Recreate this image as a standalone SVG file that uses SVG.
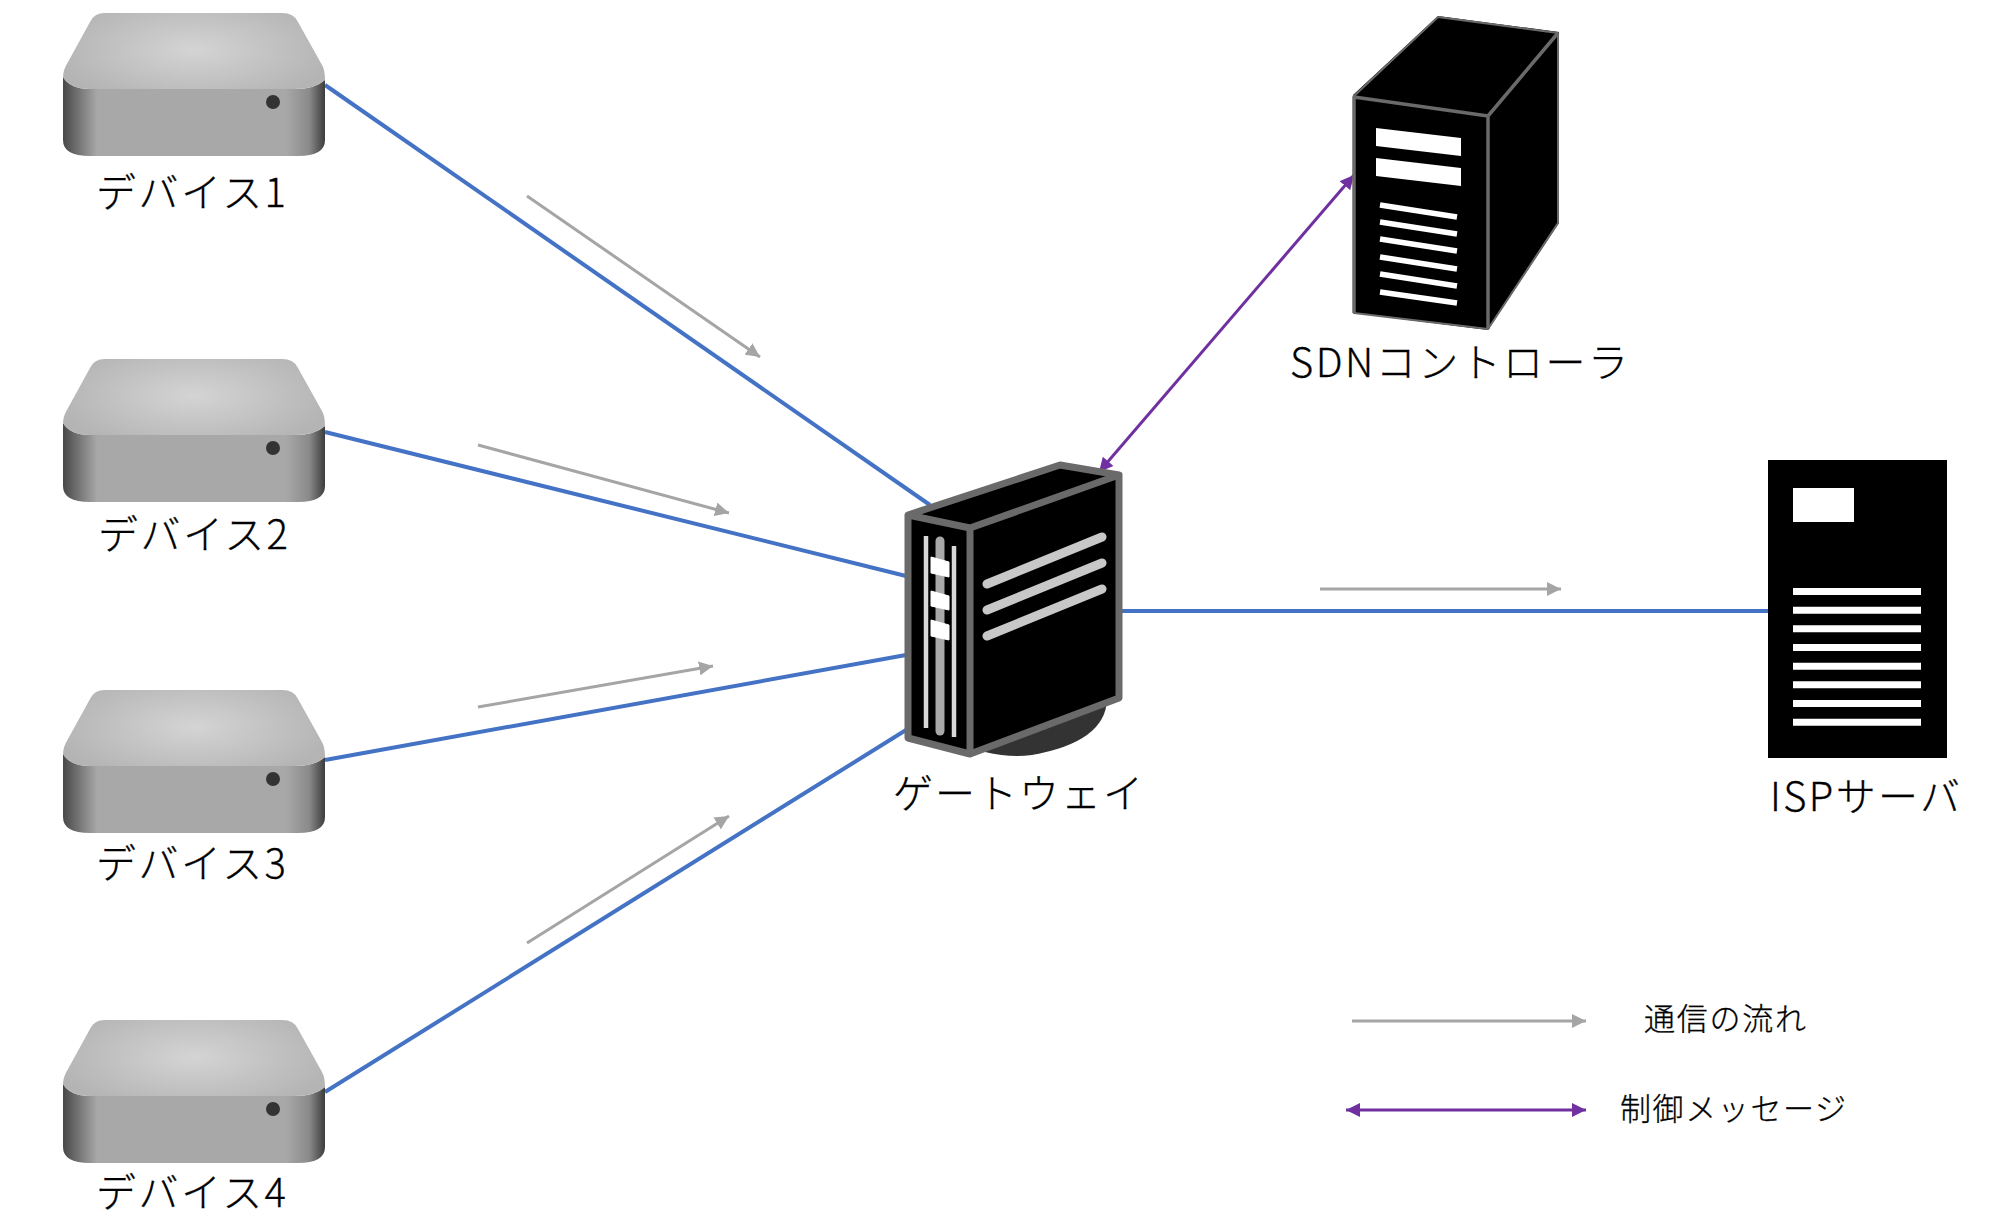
<svg xmlns="http://www.w3.org/2000/svg" width="2010" height="1230" viewBox="0 0 2010 1230">
<style>
text{font-family:"Noto Sans CJK JP","Noto Sans",sans-serif;font-weight:300;fill:#000;stroke:#000;stroke-width:.3px;font-size:40px}
.leg{font-size:31px}
.link{stroke:#4472c4;stroke-width:4;fill:none}
.flow{stroke:#a5a5a5;stroke-width:3;fill:none;marker-end:url(#ga)}
.ctl{stroke:#7030a0;stroke-width:3;fill:none;marker-end:url(#pa);marker-start:url(#ps)}
.body{fill:#000}
.edge{stroke:#6a6a6a;fill:none;stroke-linejoin:round}
</style>
<defs>
<marker id="ga" markerUnits="userSpaceOnUse" markerWidth="15" markerHeight="14" refX="14" refY="7" orient="auto"><path d="M0 0L14 7L0 14Z" fill="#a5a5a5"/></marker>
<marker id="pa" markerUnits="userSpaceOnUse" markerWidth="15" markerHeight="14" refX="14" refY="7" orient="auto"><path d="M0 0L14 7L0 14Z" fill="#7030a0"/></marker>
<marker id="ps" markerUnits="userSpaceOnUse" markerWidth="15" markerHeight="14" refX="0" refY="7" orient="auto"><path d="M14 0L0 7L14 14Z" fill="#7030a0"/></marker>
<radialGradient id="top" gradientUnits="userSpaceOnUse" cx="194" cy="50" r="140" gradientTransform="translate(0 30) scale(1 .4)">
<stop offset="0" stop-color="#d4d4d4"/><stop offset="1" stop-color="#b4b4b4"/></radialGradient>
<linearGradient id="side" gradientUnits="userSpaceOnUse" x1="63" x2="325" y1="0" y2="0">
<stop offset="0" stop-color="#484848"/><stop offset=".13" stop-color="#a8a8a8"/><stop offset=".85" stop-color="#a8a8a8"/><stop offset=".94" stop-color="#8a8a8a"/><stop offset="1" stop-color="#3c3c3c"/></linearGradient>
<g id="box">
<path d="M63 77V140Q63 156 90 156H298Q325 156 325 140V80Q315 89 295 89H90Q70 89 63 77Z" fill="url(#side)"/>
<path d="M63 77Q63 70 68 62L90 22Q94 13 105 13H282Q294 13 298 22L322 65Q325 70 325 80Q315 89 295 89H90Q70 89 63 77Z" fill="url(#top)"/>
<circle cx="273" cy="102" r="7" fill="#333"/>
</g>
</defs>
<g id="connectors">
<path class="link" d="M325 85L930 505"/>
<path class="link" d="M325 432L906 576"/>
<path class="link" d="M325 760L906 655"/>
<path class="link" d="M325 1092L906 730"/>
<path class="link" d="M1122 611H1770"/>
<path class="flow" d="M527 196L760 357"/>
<path class="flow" d="M478 445L729 513"/>
<path class="flow" d="M478 707L713 666"/>
<path class="flow" d="M527 943L729 816"/>
<path class="flow" d="M1320 589H1561"/>
<path class="ctl" d="M1099 472L1354 175"/>
<path class="flow" d="M1352 1021H1586"/>
<path class="ctl" d="M1346 1110H1586"/>
</g>
<g id="device1"><use href="#box"/><text x="96" y="207" textLength="190">デバイス1</text></g>
<g id="device2"><use href="#box" y="346"/><text x="98" y="549" textLength="190">デバイス2</text></g>
<g id="device3"><use href="#box" y="677"/><text x="96" y="878" textLength="190">デバイス3</text></g>
<g id="device4"><use href="#box" y="1007"/><text x="96" y="1207" textLength="190">デバイス4</text></g>
<g id="gateway">
<path d="M985 752Q1010 758 1032 755Q1105 742 1107 700L1000 740Z" fill="#333"/>
<path class="body" d="M908 515L1060 465L1119 475V698L970 754L908 738Z"/>
<path class="edge" stroke-width="7" d="M908 515L1060 465L1119 475L970 528ZM908 515V738L970 754V528M970 754L1119 698V475"/>
<path d="M926 536V728M954 546V737" stroke="#d8d8d8" stroke-width="4.500"/>
<path d="M940 541V731" stroke="#a8a8a8" stroke-width="9" stroke-linecap="round"/>
<path d="M931 557L949 562V577L931 573ZM931 591L949 596V610L931 606ZM931 620L949 625V640L931 636Z" fill="#fff" stroke="#fff" stroke-width="1"/>
<path d="M987 584L1102 537M987 610L1102 563M987 636L1102 589" stroke="#c8c8c8" stroke-width="9" stroke-linecap="round"/>
<text x="893" y="808" textLength="250">ゲートウェイ</text>
</g>
<g id="sdn">
<path class="body" d="M1353 95L1438 16L1559 32V223L1488 330L1353 313Z"/>
<path class="edge" stroke-width="2" d="M1354 96L1438 17L1558 33V223L1488 329L1354 313Z"/>
<path class="edge" stroke-width="3.500" d="M1354 313V97L1488 116L1558 33M1488 116V329"/>
<path d="M1376 128L1461 138V156L1376 146ZM1376 158L1461 168V186L1376 176Z" fill="#fff"/>
<path d="M1380 205L1457 217M1380 222L1457 234M1380 239L1457 251M1380 257L1457 269M1380 274L1457 286M1380 292L1457 303" stroke="#fff" stroke-width="5.500"/>
<text x="1290" y="377" textLength="338">SDNコントローラ</text>
</g>
<g id="isp">
<rect x="1768" y="460" width="179" height="298" fill="#000"/>
<rect x="1793" y="488" width="61" height="34" fill="#fff"/>
<path d="M1793 591.500H1921M1793 610.200H1921M1793 628.800H1921M1793 647.500H1921M1793 666.200H1921M1793 684.800H1921M1793 703.500H1921M1793 722.200H1921" stroke="#fff" stroke-width="7"/>
<text x="1770" y="811" textLength="190">ISPサーバ</text>
</g>
<g id="legend">
<text class="leg" x="1644" y="1030" textLength="162">通信の流れ</text>
<text class="leg" x="1620" y="1120" textLength="226">制御メッセージ</text>
</g>
</svg>
